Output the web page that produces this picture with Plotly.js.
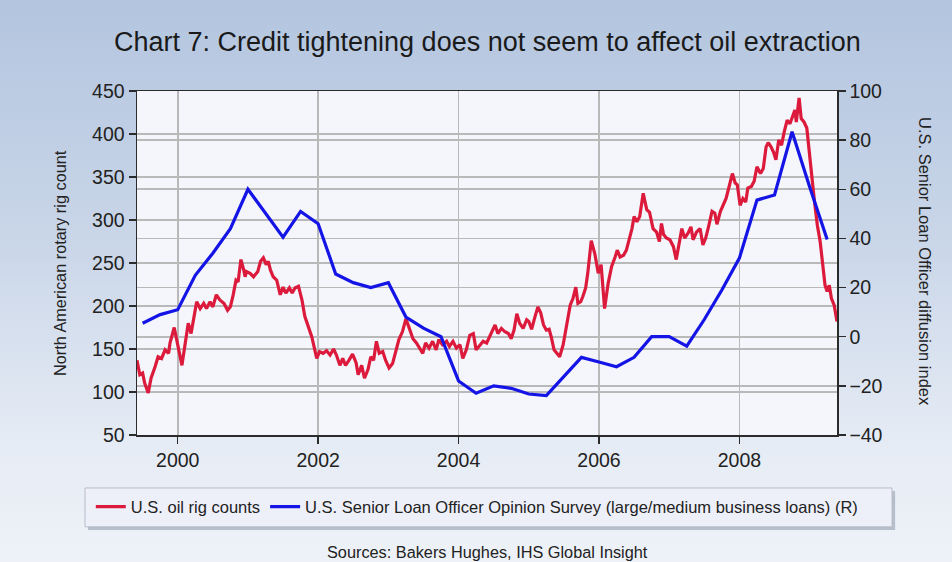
<!DOCTYPE html>
<html>
<head>
<meta charset="utf-8">
<script src="https://cdn.plot.ly/plotly-3.0.1.min.js"></script>
<style>
  html, body { margin: 0; padding: 0; }
  body { width: 952px; height: 562px; overflow: hidden;
         background: linear-gradient(to bottom, #b3c5df 0%, #cbd7e9 45%, #e6ecf5 80%, #eef2f8 100%); }
  #chart { width: 952px; height: 562px; }
</style>
</head>
<body>
<div id="chart"></div>
<script>
// U.S. oil rig counts (left axis), approx. weekly readings
const rigYears = [
  1999.42,1999.46,1999.50,1999.53,1999.58,1999.62,1999.68,1999.72,1999.77,1999.82,1999.87,1999.89,1999.95,1999.99,
  2000.02,2000.06,2000.10,2000.15,2000.19,2000.22,2000.27,2000.32,2000.37,2000.41,2000.46,2000.50,2000.55,2000.60,
  2000.66,2000.71,2000.75,2000.79,2000.83,2000.86,2000.90,2000.94,2000.96,2000.98,
  2001.03,2001.08,2001.14,2001.18,2001.22,2001.26,2001.29,2001.32,2001.36,2001.41,2001.46,2001.50,2001.54,2001.59,
  2001.63,2001.67,2001.72,2001.77,2001.81,2001.86,2001.91,2001.98,
  2002.02,2002.07,2002.12,2002.17,2002.22,2002.26,2002.31,2002.35,2002.39,2002.44,2002.49,2002.54,2002.57,2002.62,
  2002.66,2002.71,2002.75,2002.79,2002.83,2002.87,2002.92,2002.96,
  2003.01,2003.06,2003.11,2003.15,2003.20,2003.25,2003.29,2003.35,2003.40,2003.45,2003.49,2003.53,2003.58,2003.63,
  2003.68,2003.72,2003.77,2003.83,2003.87,2003.92,2003.97,
  2004.02,2004.06,2004.11,2004.16,2004.21,2004.25,2004.31,2004.35,2004.40,2004.44,2004.52,2004.56,2004.61,2004.66,
  2004.71,2004.75,2004.79,2004.83,2004.87,2004.92,2004.97,
  2005.00,2005.04,2005.09,2005.13,2005.17,2005.21,2005.25,2005.29,2005.32,2005.36,2005.40,2005.44,2005.49,2005.53,
  2005.56,2005.59,2005.63,2005.67,2005.70,2005.74,2005.77,2005.81,2005.84,2005.89,2005.94,2005.99,
  2006.03,2006.08,2006.13,2006.18,2006.23,2006.26,2006.30,2006.35,2006.39,2006.43,2006.47,2006.50,2006.54,2006.58,
  2006.63,2006.68,2006.72,2006.77,2006.82,2006.86,2006.89,2006.92,2006.96,
  2007.01,2007.06,2007.10,2007.15,2007.18,2007.22,2007.27,2007.31,2007.34,2007.39,2007.44,2007.48,2007.52,2007.56,
  2007.61,2007.65,2007.68,2007.73,2007.77,2007.81,2007.86,2007.90,2007.94,2007.97,
  2008.01,2008.05,2008.09,2008.12,2008.17,2008.21,2008.25,2008.30,2008.34,2008.38,2008.41,2008.45,2008.49,2008.52,
  2008.56,2008.60,2008.64,2008.68,2008.72,2008.76,2008.79,2008.81,2008.85,2008.88,2008.92,2008.96,2008.99,
  2009.03,2009.07,2009.11,2009.15,2009.18,2009.22,2009.25,2009.28,2009.31,2009.35,2009.39
];
const rigCounts = [
  137,120,122,110,99,116,130,141,139,149,145,157,175,161,
  147,131,153,180,168,184,205,197,203,197,205,199,213,207,
  203,195,199,213,230,228,254,242,234,240,
  238,234,240,252,256,248,252,242,234,230,213,222,215,221,
  215,221,223,207,188,176,164,139,
  147,145,148,143,150,143,131,139,131,137,144,134,120,131,
  116,126,141,137,159,145,147,137,
  128,133,147,161,170,185,176,162,157,151,145,157,151,159,
  149,161,155,159,153,159,151,
  155,139,149,166,168,149,155,159,157,164,178,168,174,170,
  168,162,172,191,180,174,184,
  182,173,188,199,192,178,172,173,164,149,145,141,155,172,
  188,201,209,222,203,205,211,221,238,276,261,238,
  248,197,226,246,257,265,257,259,265,277,290,304,298,304,
  331,312,309,290,286,275,296,283,279,
  277,269,254,275,290,279,285,292,277,286,290,271,279,292,
  310,308,295,310,317,325,341,354,343,341,
  317,325,321,337,339,345,362,354,360,385,390,385,378,370,
  393,387,403,416,412,422,428,414,442,418,414,407,379,
  352,321,294,275,256,224,217,224,209,201,182
];

// Senior Loan Officer Opinion Survey diffusion index (right axis), quarterly
const sloosYears = [
  1999.50,1999.75,2000.00,2000.25,2000.50,2000.75,2001.00,2001.25,2001.50,2001.75,
  2002.00,2002.25,2002.50,2002.75,2003.00,2003.25,2003.50,2003.75,
  2004.00,2004.25,2004.50,2004.75,2005.00,2005.25,2005.50,2005.75,
  2006.00,2006.25,2006.50,2006.75,2007.00,2007.25,2007.50,2007.75,
  2008.00,2008.25,2008.50,2008.75,2009.00,2009.25
];
const sloosValues = [
  5.5,9,11,25,34,44,60,50,40.5,51,
  46,25.5,22,20,22,8,3.5,0,
  -18,-23,-20,-21,-23.3,-24,-16,-8.4,
  -10.3,-12.2,-8.4,0,0,-3.8,7,19,
  32,55.6,57.7,83.4,61,39.6
];

const titleText = 'Chart 7: Credit tightening does not seem to affect oil extraction';
const leftTitle = 'North American rotary rig count';
const rightTitle = 'U.S. Senior Loan Officer diffusion index';
const rigName = 'U.S. oil rig counts';
const sloosName = 'U.S. Senior Loan Officer Opinion Survey (large/medium business loans) (R)';
const sourceText = 'Sources: Bakers Hughes, IHS Global Insight';
const yearTicks = [2000, 2002, 2004, 2006, 2008];

const FONT = 'Liberation Sans, Arial, sans-serif';
const gridCol = '#b9b9b9';
const axisCol = '#2b2b2b';
const tickFont = { size: 19.5, color: '#222', family: FONT };

const traces = [
  { x: rigYears, y: rigCounts, type: 'scatter', mode: 'lines', name: rigName,
    line: { color: '#dc1a3c', width: 3.2 }, yaxis: 'y' },
  { x: sloosYears, y: sloosValues, type: 'scatter', mode: 'lines', name: sloosName,
    line: { color: '#1414e6', width: 3.2 }, yaxis: 'y2' }
];

const layout = {
  width: 952, height: 562,
  margin: { l: 137, r: 115, t: 91, b: 127 },
  paper_bgcolor: 'rgba(0,0,0,0)',
  plot_bgcolor: '#f4f6fb',
  font: { family: FONT, color: '#222' },
  title: { text: titleText, font: { size: 27, color: '#1a1a1a', family: FONT },
           x: 0.512, xanchor: 'center', y: 1 - 42/562, yanchor: 'middle' },
  showlegend: true,
  legend: { orientation: 'h', x: -0.066, xanchor: 'left', y: -0.158, yanchor: 'top',
            bgcolor: 'rgba(0,0,0,0)', font: { size: 16.5, color: '#222', family: FONT },
            itemwidth: 30, traceorder: 'normal' },
  xaxis: { range: [1999.42, 2009.39], tickvals: yearTicks, ticktext: yearTicks.map(String),
           showgrid: true, gridcolor: gridCol, gridwidth: 1.6, zeroline: false,
           showline: true, linecolor: axisCol, linewidth: 1.5, mirror: true,
           ticks: 'outside', ticklen: 7, tickcolor: axisCol, tickwidth: 1.5,
           tickfont: tickFont },
  yaxis: { range: [50, 450], dtick: 50, tick0: 50,
           showgrid: true, gridcolor: gridCol, gridwidth: 1.6, zeroline: false,
           showline: true, linecolor: axisCol, linewidth: 1.5,
           ticks: 'outside', ticklen: 7, tickcolor: axisCol, tickwidth: 1.5,
           tickfont: tickFont },
  yaxis2: { range: [-40, 100], dtick: 20, tick0: -40, overlaying: 'y', side: 'right',
            showgrid: true, gridcolor: gridCol, gridwidth: 1.6, zeroline: false,
            showline: true, linecolor: axisCol, linewidth: 1.5,
            ticks: 'outside', ticklen: 7, tickcolor: axisCol, tickwidth: 1.5,
            tickfont: tickFont },
  shapes: [
    { type: 'rect', xref: 'paper', yref: 'paper', layer: 'below',
      x0: -0.070, x1: 1.083, y0: -0.276, y1: -0.163,
      fillcolor: 'rgba(120,130,150,0.45)', line: { width: 0 } },
    { type: 'rect', xref: 'paper', yref: 'paper', layer: 'below',
      x0: -0.0743, x1: 1.0786, y0: -0.267, y1: -0.154,
      fillcolor: '#eef0f9', line: { color: '#b8bcc8', width: 1 } }
  ],
  annotations: [
    { text: leftTitle, xref: 'paper', yref: 'paper', x: -0.11, y: 0.5,
      xanchor: 'center', yanchor: 'middle', textangle: -90, showarrow: false,
      font: { size: 16.3, color: '#222', family: FONT } },
    { text: rightTitle, xref: 'paper', yref: 'paper', x: 1.1257, y: 0.503,
      xanchor: 'center', yanchor: 'middle', textangle: 90, showarrow: false,
      font: { size: 16.5, color: '#222', family: FONT } },
    { text: sourceText, xref: 'paper', yref: 'paper', x: 0.5, y: -0.34,
      xanchor: 'center', yanchor: 'middle', showarrow: false,
      font: { size: 16.3, color: '#222', family: FONT } }
  ]
};

Plotly.newPlot('chart', traces, layout, { staticPlot: true, displayModeBar: false });
</script>
</body>
</html>
